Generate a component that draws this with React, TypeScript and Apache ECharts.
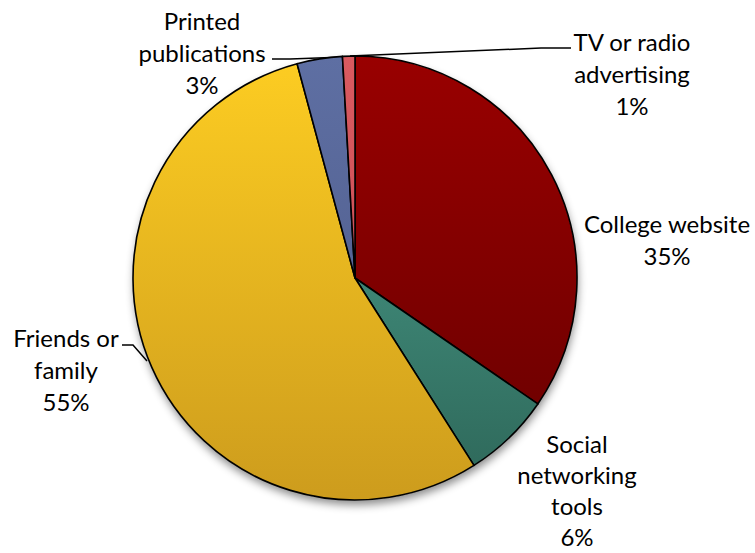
import React, { useEffect, useRef } from "react";
import * as echarts from "echarts";

const categories = [
  "College website",
  "Social\nnetworking\ntools",
  "Friends or\nfamily",
  "Printed\npublications",
  "TV or radio\nadvertising",
];
const values = [34.6, 6.4, 54.8, 3.3, 0.9];
const topColors = ["#990000", "#4ea592", "#fdcd22", "#5e6fa3", "#d95a60"];
const bottomColors = ["#660000", "#2d6658", "#cd9c1d", "#4c5885", "#c24a50"];

const CX = 355;
const CY = 278;
const R = 222;

// label block centres and leader lines (layout only)
const labelPos: [number, number][] = [
  [667, 239],
  [577, 490],
  [66, 369],
  [202, 52],
  [632, 73],
];
const labelLineHeights = [32, 31, 32, 32, 32];
const leaderLines: ([number, number][] | null)[] = [
  null,
  null,
  [[122, 345], [133, 345], [147, 361]],
  [[272, 59], [290, 59], [345, 57]],
  [[571, 48], [541, 48], [350, 56]],
];

export default function App() {
  const ref = useRef<HTMLDivElement>(null);
  useEffect(() => {
    if (!ref.current) return;
    const chart = echarts.init(ref.current, null, { renderer: "svg" });
    const grad = (i: number) => ({
      type: "linear",
      x: 0,
      y: CY - R,
      x2: 0,
      y2: CY + R,
      global: true,
      colorStops: [
        { offset: 0, color: topColors[i] },
        { offset: 1, color: bottomColors[i] },
      ],
    });
    const total = values.reduce((a, b) => a + b, 0);
    chart.setOption({
      animation: false,
      backgroundColor: "#ffffff",
      series: [
        {
          type: "pie",
          silent: true,
          center: [CX, CY],
          radius: R,
          z: 1,
          label: { show: false },
          labelLine: { show: false },
          itemStyle: {
            color: "#ffffff",
            shadowBlur: 8,
            shadowOffsetX: 1,
            shadowOffsetY: 5,
            shadowColor: "rgba(0,0,0,0.45)",
          },
          data: [{ value: total, name: "" }],
        },
        {
          type: "pie",
          z: 2,
          center: [CX, CY],
          radius: R,
          startAngle: 90,
          clockwise: true,
          percentPrecision: 0,
          avoidLabelOverlap: false,
          data: categories.map((name, i) => ({
            name,
            value: values[i],
            itemStyle: { color: grad(i) },
            label: { lineHeight: labelLineHeights[i] },
            labelLine: { show: leaderLines[i] !== null },
          })),
          itemStyle: { borderColor: "#000000", borderWidth: 1.6 },
          label: {
            show: true,
            position: "outside",
            formatter: "{b}\n{d}%",
            fontFamily: "Lato, 'Open Sans', sans-serif",
            fontSize: 24,
            lineHeight: 32,
            color: "#000000",
            align: "center",
          },
          labelLine: {
            show: true,
            lineStyle: { color: "#000000", width: 1.5 },
          },
          labelLayout: (params: any) => {
            const i = params.dataIndex;
            const p = labelPos[i];
            const out: any = {
              x: p[0],
              y: p[1],
              align: "center",
              verticalAlign: "middle",
            };
            if (leaderLines[i]) out.labelLinePoints = leaderLines[i];
            return out;
          },
        },
      ],
    });
    return () => chart.dispose();
  }, []);
  return (
    <div
      ref={ref}
      style={{ position: "fixed", left: 0, top: 0, width: 755, height: 553 }}
    />
  );
}
